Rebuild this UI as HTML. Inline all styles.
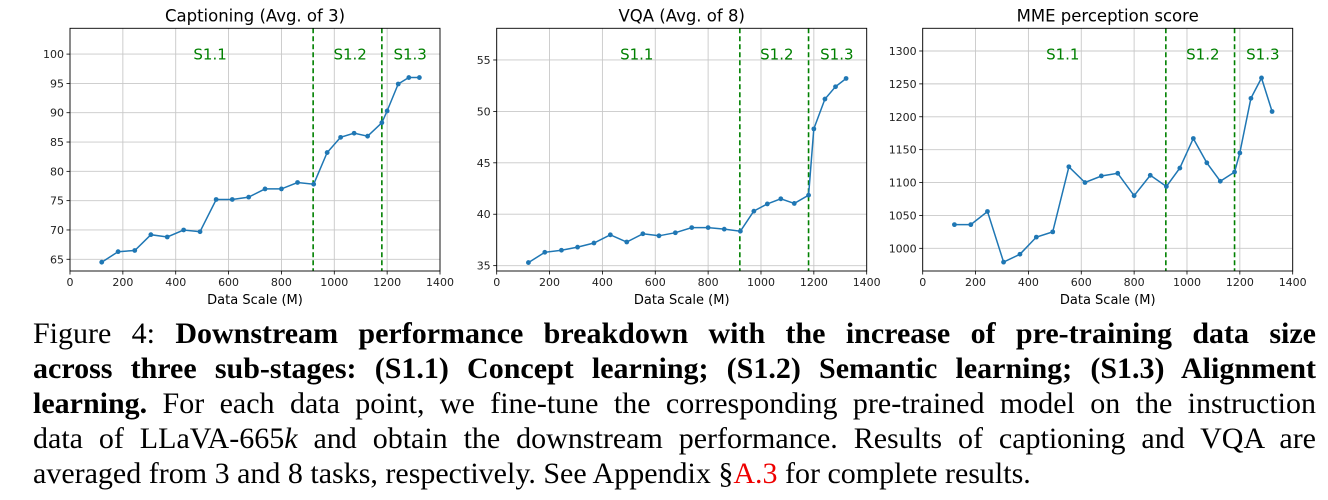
<!DOCTYPE html>
<html><head><meta charset="utf-8"><style>
body{margin:0;width:1328px;height:500px;background:#fff;overflow:hidden;position:relative}
svg{position:absolute;left:0;top:0}
#cap{position:absolute;left:33px;top:316px;width:1283px;font-family:"Liberation Serif",serif;font-size:30px;line-height:35px;color:#000}
.ln{text-align:justify;text-align-last:justify;white-space:nowrap;height:35px}
.ln.last{text-align-last:left}
a{color:#e00;text-decoration:none}
</style></head><body>
<svg id="fig" width="1328" height="310"></svg>
<div id="cap">
<div class="ln"><span>Figure 4: </span><b>Downstream performance breakdown with the increase of pre-training data size</b></div>
<div class="ln"><b>across three sub-stages: (S1.1) Concept learning; (S1.2) Semantic learning; (S1.3) Alignment</b></div>
<div class="ln"><b>learning.</b> For each data point, we fine-tune the corresponding pre-trained model on the instruction</div>
<div class="ln">data of LLaVA-665<i>k</i> and obtain the downstream performance. Results of captioning and VQA are</div>
<div class="ln last">averaged from 3 and 8 tasks, respectively. See Appendix §<a>A.3</a> for complete results.</div>
</div>
<script>
const xData=[120,182,245,306,368,430,492,553,614,676,738,800,861,922,973,1024,1075,1126,1180,1200,1242,1282,1322];
const captionVals=[64.5,66.3,66.5,69.2,68.8,70,69.7,75.2,75.2,75.6,77,77,78.1,77.8,83.2,85.8,86.5,86,88.3,90.3,94.9,96,96];
const vqaVals=[35.3,36.3,36.5,36.8,37.2,38,37.3,38.1,37.9,38.2,38.7,38.7,38.55,38.35,40.3,41,41.5,41.05,41.85,48.3,51.2,52.4,53.2];
const mmeVals=[1036,1036,1056,979,991,1017,1025,1124,1100,1110,1114,1080,1111,1094,1122,1167,1130,1102,1116,1145,1228,1259,1208];
const xTicks=[0,200,400,600,800,1000,1200,1400];
const captionTicks=[65,70,75,80,85,90,95,100];
const vqaTicks=[35,40,45,50,55];
const mmeTicks=[1000,1050,1100,1150,1200,1250,1300];
const stageBounds=[920,1180];
const stageLabels=["S1.1","S1.2","S1.3"];
const stageLabelX=[530,1060,1287];
const titles=["Captioning (Avg. of 3)","VQA (Avg. of 8)","MME perception score"];

const NS="http://www.w3.org/2000/svg";
const svgEl=document.getElementById('fig');
function mk(tag,attrs,parent){const e=document.createElementNS(NS,tag);for(const k in attrs)e.setAttribute(k,attrs[k]);(parent||svgEl).appendChild(e);return e;}
const panels=[
 {name:'captioning',left:70,vals:captionVals,ticks:captionTicks,ymin:63,ymax:104.4},
 {name:'vqa',left:496.7,vals:vqaVals,ticks:vqaTicks,ymin:34.48,ymax:58.08},
 {name:'mme',left:922.7,vals:mmeVals,ticks:mmeTicks,ymin:965.5,ymax:1334.5}
];
const axTop=28.3,axBot=271,W=370;
panels.forEach((p,pi)=>{
 const g=mk('g',{});
 
 
 const X=v=>p.left+v/1400*W;
 const Y=v=>axBot-(v-p.ymin)/(p.ymax-p.ymin)*(axBot-axTop);
 const font='DejaVu Sans, Liberation Sans, sans-serif';
 xTicks.forEach(t=>{
  mk('line',{x1:X(t),x2:X(t),y1:axTop,y2:axBot,stroke:'#c8c8c8','stroke-width':0.9},g);
  mk('line',{x1:X(t),x2:X(t),y1:axBot,y2:axBot+3.5,stroke:'#000','stroke-width':0.8},g);
  const tx=mk('text',{x:X(t),y:axBot+15,'text-anchor':'middle','font-family':font,'font-size':11,fill:'#222'},g);
  tx.textContent=t;
  
  
 });
 p.ticks.forEach(t=>{
  mk('line',{x1:p.left,x2:p.left+W,y1:Y(t),y2:Y(t),stroke:'#c8c8c8','stroke-width':0.9},g);
  mk('line',{x1:p.left-3.5,x2:p.left,y1:Y(t),y2:Y(t),stroke:'#000','stroke-width':0.8},g);
  const tx=mk('text',{x:p.left-6,y:Y(t)+4,'text-anchor':'end','font-family':font,'font-size':11,fill:'#222'},g);
  tx.textContent=t;
  
  
 });
 stageBounds.forEach(b=>{
  const l=mk('line',{x1:X(b),x2:X(b),y1:axTop,y2:axBot,stroke:'#008000','stroke-width':1.6,'stroke-dasharray':'5,3'},g);
  
  
 });
 stageLabels.forEach((s,i)=>{
  const tx=mk('text',{x:X(stageLabelX[i]),y:axTop+(axBot-axTop)*0.105+5.5,'text-anchor':'middle','font-family':font,'font-size':15,fill:'#008000'},g);
  tx.textContent=s;
  
  
 });
 const pts=xData.map((x,i)=>X(x).toFixed(1)+','+Y(p.vals[i]).toFixed(1)).join(' ');
 const pl=mk('polyline',{points:pts,fill:'none',stroke:'#1f77b4','stroke-width':1.5},g);
 
 
 xData.forEach((x,i)=>{
  const c=mk('circle',{cx:X(x),cy:Y(p.vals[i]),r:2.4,fill:'#1f77b4'},g);
  
  
 });
 mk('rect',{x:p.left,y:axTop,width:W,height:axBot-axTop,fill:'none',stroke:'#000','stroke-width':0.9},g);
 const ti=mk('text',{x:p.left+W/2,y:21.5,'text-anchor':'middle','font-family':font,'font-size':16.5,fill:'#000'},g);
 ti.textContent=titles[pi];
 
 
 const xl=mk('text',{x:p.left+W/2,y:304,'text-anchor':'middle','font-family':font,'font-size':13,fill:'#000'},g);
 xl.textContent='Data Scale (M)';
 
 
});
</script>
</body></html>
